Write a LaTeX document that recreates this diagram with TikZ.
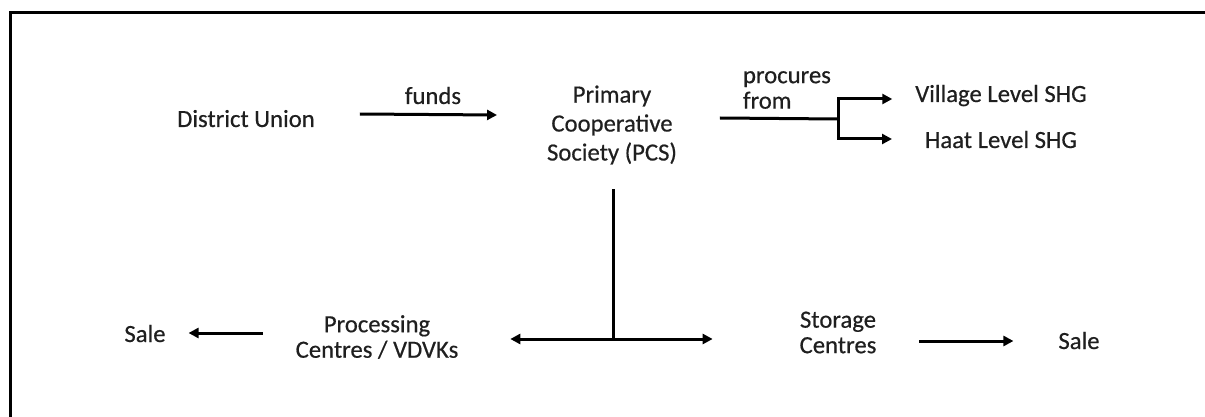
\documentclass[tikz,border=0pt]{standalone}
\usepackage{fontspec}
\setmainfont{Carlito}
\newfontfamily\lblfont{Carlito}[FakeBold=0.5]
\usetikzlibrary{arrows.meta,calc}
\begin{document}
\begin{tikzpicture}[x=1pt,y=-1pt,
  lbl/.style={inner sep=0pt, outer sep=0pt, text=black!88, font=\lblfont\fontsize{24.7}{29}\selectfont},
  lbltight/.style={lbl, font=\lblfont\fontsize{24.7}{25.5}\selectfont},
  ln/.style={line width=3pt, line cap=butt},
  arr/.style={ln, -{Triangle[length=10pt,width=10pt]}},
  frame/.style={line width=3pt}]
\useasboundingbox (0,0) rectangle (1205,417);
% frame (top and left edges)
\coordinate (fbl) at (10,417);
\coordinate (ftl) at (10,13);
\coordinate (ftr) at (1205,13);
\draw[frame] (fbl) -- (ftl) -- (ftr);
% nodes
\node[lbl, anchor=base] (du) at (246,127) {District Union};
\node[lbl, anchor=base] (funds) at (433,104) {funds};
\node[lbl, align=center] (pcs) at (612,125) {Primary\\Cooperative\\Society (PCS)};
\node[lbltight, align=left, anchor=west] (proc) at (743,90) {procures\\from};
\node[lbl, anchor=base] (vil) at (1001,102) {Village Level SHG};
\node[lbl, anchor=base] (haat) at (1001,148) {Haat Level SHG};
\node[lbltight, align=center] (pc) at (377,337) {Processing\\Centres / VDVKs};
\node[lbltight, align=center] (st) at (838,332.5) {Storage\\Centres};
\node[lbl, anchor=base] (saleL) at (145,342) {Sale};
\node[lbl, anchor=base] (saleR) at (1079,349) {Sale};
% junctions
\coordinate (jt) at (838,119);
\coordinate (jb) at (613,339);
% connectors
\draw[arr] ($(du.base east)+(45,-13)$) -- ($(pcs.west)+(-50,-10)$);
\draw[ln] ($(pcs.east)+(43,-7)$) -- (jt);
\draw[arr] (jt) |- ($(vil.base west)+(-23,-3)$);
\draw[arr] (jt) |- ($(haat.base west)+(-33,-9)$);
\draw[ln] ($(pcs.south)+(1,25)$) -- (jb);
\draw[arr] (jb) -- ($(pc.east)+(52,2)$);
\draw[arr] (jb) -- ($(st.west)+(-87,6.5)$);
\draw[arr] ($(pc.west)+(-33,-4)$) -- ($(saleL.base east)+(23,-9)$);
\draw[arr] ($(st.east)+(43,8.5)$) -- ($(saleR.base west)+(-45,-8)$);
\end{tikzpicture}
\end{document}
